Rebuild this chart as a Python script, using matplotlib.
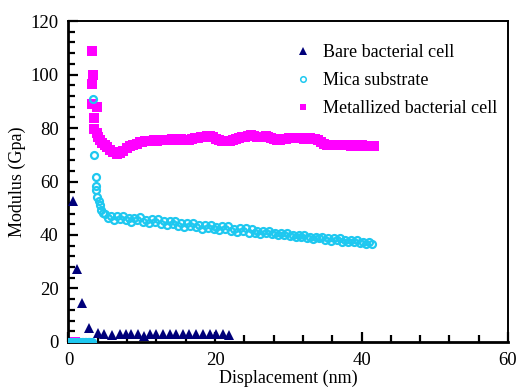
import matplotlib
matplotlib.use("Agg")
import matplotlib.pyplot as plt
from matplotlib.ticker import MultipleLocator

plt.rcParams['font.family'] = ['Liberation Serif', 'DejaVu Serif']

# ---------------- data ----------------
bare_x = [0.6, 1.1, 1.9, 2.8, 4.0, 4.9, 5.9, 7.0, 7.9, 8.6, 9.5, 10.3, 11.1,
          12.0, 12.9, 13.8, 14.7, 15.6, 16.5, 17.4, 18.3, 19.3, 20.2, 21.1, 21.9]
bare_y = [52.8, 27.2, 14.5, 5.3, 3.5, 3.0, 2.8, 3.1, 2.9, 3.0, 3.1, 2.4, 2.9,
          3.0, 2.9, 3.1, 3.0, 2.9, 3.0, 3.1, 2.9, 3.0, 2.9, 3.0, 2.6]

mica_x = [0.0, 0.2, 0.4, 0.6, 0.8, 1.0, 1.2, 1.4, 1.6, 1.8, 2.0, 2.2, 2.4, 2.6,
          2.8, 3.0, 3.2,
          3.3, 3.5, 3.7, 3.75, 3.8, 3.9, 4.2, 4.3, 4.5, 4.75,
          5.0, 5.4, 5.8, 6.2, 6.6, 7.0, 7.4, 7.8, 8.2, 8.6, 9.0, 9.4, 9.8,
          10.2, 10.6, 11.0, 11.4, 11.8, 12.2, 12.6, 13.0, 13.4, 13.8, 14.2,
          14.6, 15.0, 15.4, 15.8, 16.2, 16.6, 17.0, 17.4, 17.8, 18.2, 18.6,
          19.0, 19.4, 19.8, 20.2, 20.6, 21.0, 21.4, 21.8, 22.2, 22.6, 23.0,
          23.4, 23.8, 24.2, 24.6, 25.0, 25.4, 25.8, 26.2, 26.6, 27.0, 27.4,
          27.8, 28.2, 28.6, 29.0, 29.4, 29.8, 30.2, 30.6, 31.0, 31.4, 31.8,
          32.2, 32.6, 33.0, 33.4, 33.8, 34.2, 34.6, 35.0, 35.4, 35.8, 36.2,
          36.6, 37.0, 37.4, 37.8, 38.2, 38.6, 39.0, 39.4, 39.8, 40.2, 40.6,
          41.0, 41.4]
mica_y = [0, 0, 0, 0, 0, 0, 0, 0, 0, 0, 0, 0, 0, 0, 0, 0, 0,
          90.8, 70.0, 61.8, 58.4, 56.8, 54.3, 52.8, 51.2, 49.3, 48.1,
          47.9, 46.2, 47.1, 45.7, 47.2, 46.1, 47.2, 45.5, 46.4, 45.0,
          46.5, 45.5, 46.6, 44.9, 45.7, 44.3, 45.8, 44.8, 45.9, 44.2,
          45.1, 43.7, 45.2, 44.2, 45.2, 43.5, 44.4, 43.0, 44.5, 43.5,
          44.6, 42.9, 43.8, 42.4, 43.8, 42.8, 43.9, 42.2, 43.1, 41.7,
          43.2, 42.2, 43.2, 41.5, 42.4, 41.0, 42.5, 41.5, 42.6, 40.9,
          42.1, 40.8, 41.4, 40.5, 41.4, 40.7, 41.4, 40.2, 40.8, 39.9,
          40.8, 40.0, 40.7, 39.5, 40.1, 39.2, 40.1, 39.4, 40.1, 38.9,
          39.4, 38.5, 39.4, 38.7, 39.4, 38.2, 38.8, 37.9, 38.8, 38.1,
          38.7, 37.5, 38.1, 37.2, 38.1, 37.4, 38.1, 36.9, 37.5, 36.5,
          37.4, 36.6]

metal_x = [0.0, 0.3, 0.6, 0.9,
           3.2, 3.4, 3.2, 3.25, 3.85, 3.5, 3.5, 3.85, 4.0, 4.3, 4.6, 5.0,
           5.3, 5.7, 6.1, 6.6, 7.0, 7.5, 8.0, 8.4, 8.8, 9.3, 9.75,
           10.1, 10.5, 10.9, 11.3, 11.7, 12.1, 12.5, 12.9, 13.3, 13.7, 14.1,
           14.5, 14.9, 15.3, 15.7, 16.1, 16.5, 16.9, 17.3, 17.7, 18.1, 18.5,
           18.9, 19.3, 19.7, 20.1, 20.5, 20.9, 21.3, 21.7, 22.1, 22.5, 22.9,
           23.3, 23.7, 24.1, 24.5, 24.9, 25.3, 25.7, 26.1, 26.5, 26.9, 27.3,
           27.7, 28.1, 28.5, 28.9, 29.3, 29.7, 30.1, 30.5, 30.9, 31.3, 31.7,
           32.1, 32.5, 32.9, 33.3, 33.7, 34.1, 34.5, 34.9, 35.3, 35.7, 36.1,
           36.5, 36.9, 37.3, 37.7, 38.1, 38.5, 38.9, 39.3, 39.7, 40.1, 40.5,
           40.9, 41.3, 41.7]
metal_y = [0, 0, 0, 0,
           108.9, 100.0, 96.3, 89.0, 87.7, 83.6, 79.5, 78.0, 76.5, 75.5, 74.5,
           73.6, 72.8, 71.8, 71.0, 70.3, 70.5, 71.5, 72.5, 73.2, 73.6, 74.2,
           74.6,
           74.8, 75.0, 75.2, 75.0, 75.4, 75.3, 75.6, 75.4, 75.7, 75.5, 75.8,
           75.4, 75.6, 75.8, 75.5, 75.4, 75.7, 75.9, 76.2, 76.4, 76.6, 76.8,
           77.0, 76.9, 76.6, 76.0, 75.6, 75.2, 75.0, 75.1, 75.3, 75.6, 75.9,
           76.2, 76.5, 76.8, 77.0, 77.2, 77.1, 76.8, 76.5, 76.6, 76.9, 76.7,
           76.4, 76.0, 75.7, 75.5, 75.8, 76.0, 76.2, 76.1, 76.3, 76.4, 76.2,
           76.0, 76.2, 76.1, 76.0, 75.8, 75.6, 74.8, 74.0, 73.6, 73.7, 73.5,
           73.8, 73.6, 73.5, 73.7, 73.6, 73.4, 73.6, 73.5, 73.3, 73.5, 73.4,
           73.3, 73.4, 73.3]

labels = ["Bare bacterial cell", "Mica substrate", "Metallized bacterial cell"]
xticks = [0, 20, 40, 60]
yticks = [0, 20, 40, 60, 80, 100, 120]

# ---------------- figure ----------------
fig = plt.figure(figsize=(5.2, 3.87), dpi=100)
ax = fig.add_axes([0.1317, 0.1163, 0.8453, 0.8294])

navy = '#00007a'
cyan = '#1ec8f0'
magenta = '#ff00ff'

h_metal, = ax.plot(metal_x, metal_y, linestyle='none', marker='s',
                   markersize=6.6, color=magenta, markeredgewidth=0, zorder=2)
h_mica, = ax.plot(mica_x, mica_y, linestyle='none', marker='o',
                  markersize=5.0, markerfacecolor='none', markeredgecolor=cyan,
                  markeredgewidth=1.6, zorder=3)
h_bare, = ax.plot(bare_x, bare_y, linestyle='none', marker='^',
                  markersize=6.8, color=navy, markeredgewidth=0, zorder=4)

ax.set_xlim(0, 60)
ax.set_ylim(0, 120)
ax.set_xticks(xticks)
ax.set_yticks(yticks)
ax.xaxis.set_minor_locator(MultipleLocator(4))
ax.yaxis.set_minor_locator(MultipleLocator(4))
ax.tick_params(which='both', direction='in', top=False, right=False,
               labelsize=13.5, width=1.6, colors='black')
ax.tick_params(which='major', length=7, pad=7)
ax.tick_params(which='minor', length=5)
for s in ['left', 'bottom']:
    ax.spines[s].set_linewidth(2.0)
for s in ['top', 'right']:
    ax.spines[s].set_linewidth(1.4)

ax.set_xlabel("Displacement (nm)", fontsize=13, labelpad=1)
ax.set_ylabel("Modulus (Gpa)", fontsize=13, labelpad=3)

leg = ax.legend([h_bare, h_mica, h_metal], labels, loc='upper left',
                bbox_to_anchor=(0.497, 0.95), frameon=False, fontsize=13,
                handlelength=1.0, handletextpad=0.6, labelspacing=0.6,
                borderaxespad=0)
for h, ms, mew in zip(leg.legend_handles, [5.5, 4.0, 4.8], [0, 1.1, 0]):
    h.set_markersize(ms)
    h.set_markeredgewidth(mew)

fig.savefig("out.png", dpi=100)
